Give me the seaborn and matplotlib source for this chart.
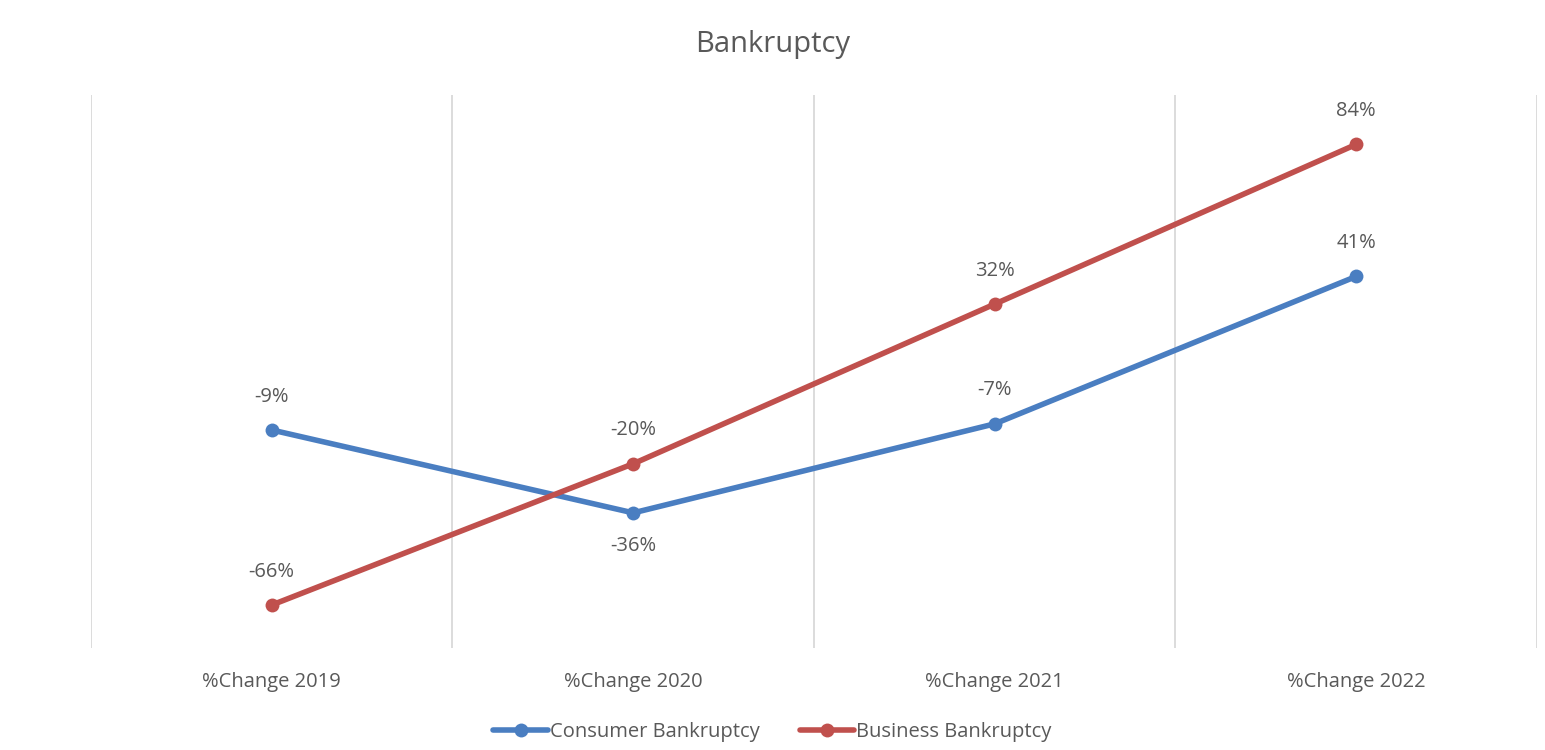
import pandas as pd
import matplotlib
matplotlib.use("Agg")
import matplotlib.pyplot as plt
import seaborn as sb

# chart data
categories = ['%Change 2019', '%Change 2020', '%Change 2021', '%Change 2022']
consumer = [-9, -36, -7, 41]
business = [-66, -20, 32, 84]
series_names = ['Consumer Bankruptcy', 'Business Bankruptcy']
label_below = {('Consumer Bankruptcy', 1)}

df = pd.DataFrame({
    'cat': list(range(len(categories))) * 2,
    'value': consumer + business,
    'series': [series_names[0]] * 4 + [series_names[1]] * 4,
})

sb.set_style('white')
plt.rcParams['font.family'] = ['Open Sans', 'DejaVu Sans']
txt = '#595959'

fig = plt.figure(figsize=(15.45, 7.5), dpi=100)
ax = fig.add_axes([0.0589, 0.136, 0.9359, 0.737])

for xg in [-0.5, 0.5, 1.5, 2.5, 3.5]:
    ax.axvline(xg, color='#D9D9D9', lw=1.3, zorder=0)

palette = {series_names[0]: '#4A7EC1', series_names[1]: '#C0504D'}
sb.lineplot(data=df, x='cat', y='value', hue='series', palette=palette,
            marker='o', markersize=10, markeredgewidth=0, linewidth=4,
            ax=ax, legend=False)

for name, vals in zip(series_names, [consumer, business]):
    for i, v in enumerate(vals):
        dy = -24 if (name, i) in label_below else 24
        ax.annotate(f'{v}%', (i, v), xytext=(0, dy), textcoords='offset points',
                    ha='center', va='center', fontsize=14.5, color=txt)

ax.set_xlim(-0.5, 3.5)
ax.set_ylim(-80, 100)
ax.set_xticks(range(len(categories)))
ax.set_xticklabels(categories, fontsize=14.5, color=txt)
ax.tick_params(axis='x', length=0, pad=17)
ax.set_yticks([])
ax.set_xlabel('')
ax.set_ylabel('')
for s in ax.spines.values():
    s.set_visible(False)

fig.suptitle('Bankruptcy', y=0.96, fontsize=21, color=txt)

handles = [plt.Line2D([], [], color=palette[n], lw=4, marker='o', markersize=10,
                      markeredgewidth=0) for n in series_names]
fig.legend(handles, series_names, loc='center', bbox_to_anchor=(0.5, 0.024), ncol=2,
           frameon=False, fontsize=14.5, labelcolor=txt, handlelength=2.7,
           handletextpad=0.1, columnspacing=2.0)

fig.savefig('out.png', dpi=100)
